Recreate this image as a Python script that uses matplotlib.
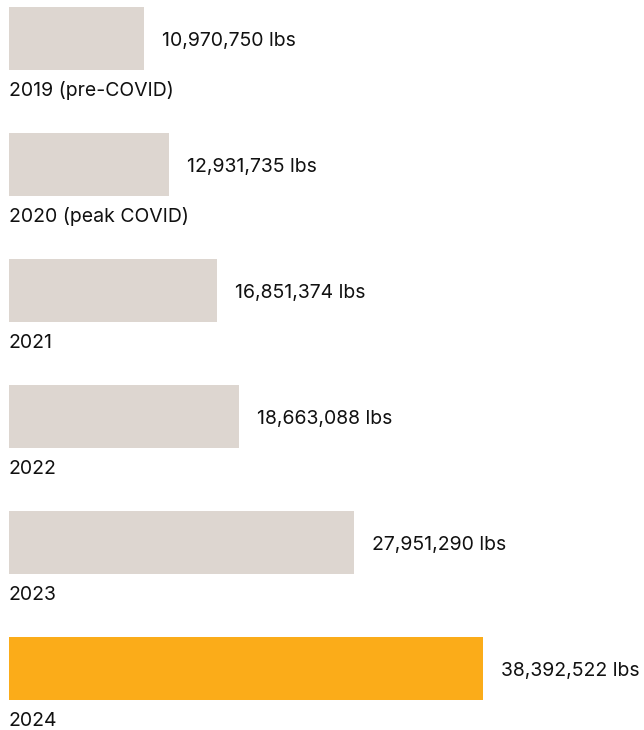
import matplotlib
matplotlib.use("Agg")
import matplotlib.pyplot as plt

categories = ["2019 (pre-COVID)", "2020 (peak COVID)", "2021", "2022", "2023", "2024"]
values = [10970750, 12931735, 16851374, 18663088, 27951290, 38392522]
colors = ["#DDD6D0"] * 5 + ["#FBAC19"]

W, H = 644, 730
fig = plt.figure(figsize=(W / 100, H / 100), dpi=100)
x0 = 9
ax = fig.add_axes([x0 / W, 0, (W - x0) / W, 1])
ax.set_xlim(0, max(values) * (W - x0) / 474)
ax.set_ylim((730 - 38.5) / 126, -38.5 / 126)
ax.axis("off")

ys = list(range(len(values)))
ax.barh(ys, values, height=0.5, color=colors, align="center")
font = "Inter"
for y, v, c in zip(ys, values, categories):
    ax.annotate(f"{v:,} lbs", (v, y), xytext=(18, -2.5), textcoords="offset pixels",
                va="center", ha="left", fontsize=14, family=font, color="#111111")
    ax.text(0, y + 0.415, c, va="center", ha="left", fontsize=14, family=font,
            color="#111111", clip_on=False)

fig.savefig("out.png", dpi=100)
